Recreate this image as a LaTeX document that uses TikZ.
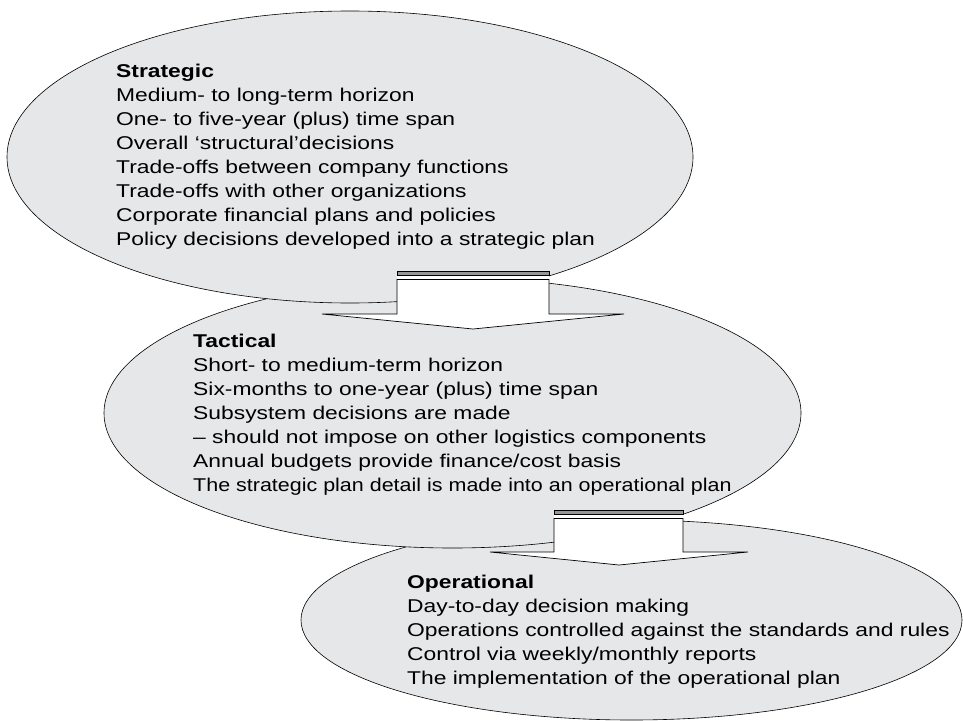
\documentclass[tikz,border=0pt]{standalone}
\usepackage{fontspec}
\usepackage{graphicx}
\setmainfont{Liberation Sans}[FakeStretch=1.235]
\usetikzlibrary{shapes.geometric}
\definecolor{ellfill}{RGB}{230,231,232}
\definecolor{bargray}{RGB}{150,150,150}
\begin{document}
\begin{tikzpicture}[x=1pt,y=-1pt,
  ell/.style={ellipse, draw=black, line width=0.6pt, fill=ellfill, inner sep=0pt},
  txt/.style={anchor=base west, inner sep=0pt, font=\fontsize{18.5}{24}\selectfont},
  blockarrow/.style={draw=black, fill=white, line width=0.7pt, line join=miter},
  topbar/.style={draw=black, fill=bargray, line width=0.5pt},
]
\useasboundingbox (0,0) rectangle (963,720);
% ellipses (back to front)
\node[ell, minimum width=661pt, minimum height=200pt] (oper) at (631.5,620) {};
\node[ell, minimum width=697pt, minimum height=270pt] (tact) at (452.5,413) {};
\node[ell, minimum width=686pt, minimum height=292pt] (strat) at (350,157) {};

% arrow 1
\fill[white] (397,275) rectangle (549,280);
\draw[topbar] (397,271.5) rectangle (549,275);
\draw[blockarrow] (397,279.5) -- (397,314) -- (322,314) -- (473,329) -- (624,314) -- (549,314) -- (549,279.5) -- cycle;

% arrow 2
\fill[white] (554,514) rectangle (683,519);
\draw[topbar] (554,510.5) rectangle (683,514);
\draw[blockarrow] (554,518.5) -- (554,552) -- (490,552) -- (619,565) -- (748,552) -- (683,552) -- (683,518.5) -- cycle;

% texts
\foreach \t [count=\i] in {Medium- to long-term horizon,One- to five-year (plus) time span,Overall ‘structural’decisions,Trade-offs between company functions,Trade-offs with other organizations,Corporate financial plans and policies,Policy decisions developed into a strategic plan}
  \node[txt] (s\i) at (116,{77+24*\i}) {\t};
\node[txt] (shead) at (116,77) {\bfseries Strategic};

\foreach \t [count=\i] in {Short- to medium-term horizon,Six-months to one-year (plus) time span,Subsystem decisions are made,– should not impose on other logistics components,Annual budgets provide finance/cost basis}
  \node[txt] (t\i) at (193,{347+24*\i}) {\t};
\node[txt] (t6) at (193,491) {\scalebox{0.94}[1]{The strategic plan detail is made into an operational plan}};
\node[txt] (thead) at (193,347) {\bfseries Tactical};

\foreach \t [count=\i] in {Day-to-day decision making,Operations controlled against the standards and rules,Control via weekly/monthly reports,The implementation of the operational plan}
  \node[txt] (o\i) at (407,{588+24*\i}) {\t};
\node[txt] (ohead) at (407,588) {\bfseries Operational};
\end{tikzpicture}
\end{document}
